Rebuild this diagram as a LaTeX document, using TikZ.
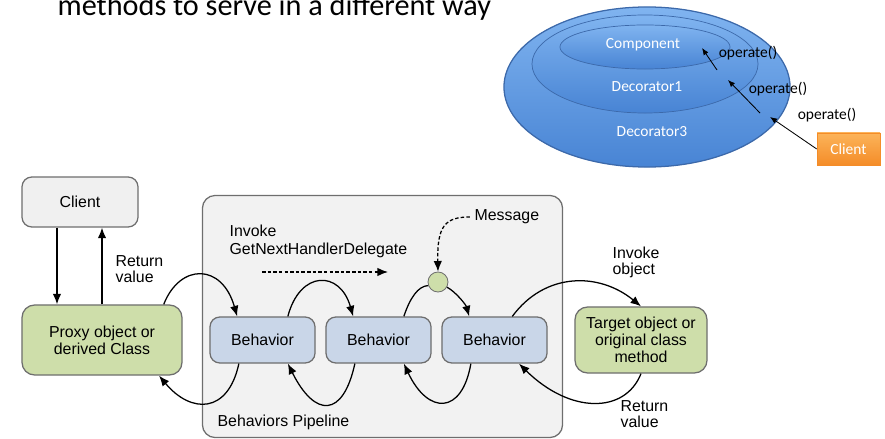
\documentclass[tikz,border=0pt]{standalone}
\usepackage{fontspec}
\setmainfont{Liberation Sans}
\newfontfamily\calibri{Carlito}
\usetikzlibrary{arrows.meta,shapes.geometric,positioning}
\definecolor{boxgray}{RGB}{240,240,240}
\definecolor{pipegray}{RGB}{242,242,242}
\definecolor{linegray}{RGB}{110,110,110}
\definecolor{objgreen}{RGB}{206,222,170}
\definecolor{behblue}{RGB}{201,214,232}
\definecolor{decotop}{RGB}{128,180,240}
\definecolor{decobot}{RGB}{72,132,212}
\definecolor{decoline}{RGB}{60,105,170}
\definecolor{usrtop}{RGB}{252,180,90}
\definecolor{usrbot}{RGB}{244,140,40}
\tikzset{
  box/.style={draw=linegray, rounded corners=7pt, align=center,
    font=\fontsize{11.3}{12}\selectfont},
  behavior/.style={box, fill=behblue, minimum width=2.625cm, minimum height=1.15cm},
  objbox/.style={box, fill=objgreen, rounded corners=9pt},
  lbl/.style={font=\fontsize{11.3}{11.5}\selectfont, align=left, inner sep=0pt},
  deco/.style={ellipse, draw=decoline, top color=decotop, bottom color=decobot, inner sep=0pt},
  decotext/.style={font=\calibri\fontsize{11}{12}\selectfont, text=white},
  optext/.style={font=\calibri\fontsize{11}{12}\selectfont},
  dotted line/.style={dash pattern=on 2.5pt off 1.5pt}
}
\begin{document}
\begin{tikzpicture}[x=0.025cm, y=-0.025cm, >={Latex[length=7.5pt,width=6pt]}, line width=0.9pt]
	\useasboundingbox (0,0) rectangle (885,439);

	% heading line
	\node[anchor=base west, inner sep=0pt, font=\calibri\fontsize{21.5}{24}\selectfont] (head) at (57,16) {methods to serve in a different way};

	% decorator rings
	\node[deco, minimum width=7.15cm, minimum height=4cm] (deco3) at (647,87) {};
	\node[deco, minimum width=5.65cm, minimum height=2.45cm, line width=0.5pt] (deco1) at (645,64) {};
	\node[deco, minimum width=4.25cm, minimum height=1.1cm, line width=0.5pt] (comp) at (645,47) {};
	\node[decotext] (comptext) at (643,45) {Component};
	\node[decotext] (deco1text) at (647,87) {Decorator1};
	\node[decotext] (deco3text) at (652,132) {Decorator3};
	\node[draw=usrbot, line width=0.4pt, top color=usrtop, bottom color=usrbot, minimum width=1.575cm, minimum height=0.8cm, decotext] (usr) at (848.5,149) {Client};

	\node[optext] (op1) at (748,53) {operate()};
	\node[optext] (op2) at (778,89) {operate()};
	\node[optext] (op3) at (827,115) {operate()};
	\coordinate (op1a) at (717,70);
	\coordinate (op1b) at (702,48);
	\coordinate (op2a) at (760,113);
	\coordinate (op2b) at (728,80);
	\coordinate (op3b) at (770,117);
	\draw[-{Latex[length=5pt,width=4pt]}, line width=0.6pt] (op1a) -- (op1b);
	\draw[-{Latex[length=5pt,width=4pt]}, line width=0.6pt] (op2a) -- (op2b);
	\draw[-{Latex[length=5pt,width=4pt]}, line width=0.6pt] (usr.west) -- (op3b);

	% interception pipeline
	\node[box, fill=pipegray, rounded corners=9pt, minimum width=9cm, minimum height=6.05cm] (pipeline) at (382.5,316.5) {};
	\node[box, fill=boxgray, minimum width=2.9cm, minimum height=1.25cm] (client) at (80,202) {Client};
	\node[objbox, minimum width=4cm, minimum height=1.75cm] (proxy) at (102,340) {Proxy object or\\derived Class};
	\node[behavior] (beh1) at (262.5,340) {Behavior};
	\node[behavior] (beh2) at (378.5,340) {Behavior};
	\node[behavior] (beh3) at (494.5,340) {Behavior};
	\node[objbox, minimum width=3.3cm, minimum height=1.65cm] (target) at (641,340) {Target object or\\original class\\method};
	\node[circle, draw=linegray, fill=objgreen, minimum size=0.5cm, inner sep=0pt, line width=0.6pt] (msgdot) at (438,282) {};

	\node[lbl, anchor=west] (retA) at (115,269) {Return\\value};
	\node[lbl, anchor=west, font=\fontsize{11.3}{12.8}\selectfont] (invoke) at (229,241) {Invoke\\GetNextHandlerDelegate};
	\node[lbl, anchor=west] (msg) at (474,217) {Message};
	\node[lbl, anchor=west] (invobj) at (612,262) {Invoke\\object};
	\node[lbl, anchor=west] (retB) at (620,414) {Return\\value};
	\node[lbl, anchor=west] (pipename) at (217,422) {Behaviors Pipeline};

	\coordinate (nextA) at (262,272);
	\coordinate (nextB) at (388,272);
	\draw[->, dotted line] (nextA) -- (nextB);
	\draw[->, dotted line] ([xshift=-3pt]msg.west) .. controls (445,217) and (437,226) .. (msgdot.north);

	\draw[->] ([xshift=-0.575cm]client.south) -- ([xshift=-0.575cm]client.south |- proxy.north);
	\draw[->] (proxy.north) -- (proxy.north |- client.south);

	\draw[->] (proxy.30) .. controls (180,263) and (222,263) .. (beh1.137);
	\draw[->] (beh1.43) .. controls (300,270) and (340,270) .. (beh2.137);
	\draw (beh2.43) .. controls (410,298) and (418,286) .. (msgdot.200);
	\draw[->] (msgdot.-30) .. controls (456,292) and (466,305) .. (beh3.137);
	\draw[->] (beh3.53) .. controls (545,272) and (599,272) .. (target.north);

	\draw[->] (target.south) .. controls (625,414) and (570,414) .. (beh3.-44);
	\draw[->] (beh3.225) .. controls (462,415) and (428,415) .. (beh2.-43);
	\draw[->] (beh2.225) .. controls (343,418) and (315,418) .. (beh1.-43);
	\draw[->] (beh1.225) .. controls (228,414) and (191,414) .. (proxy.-32);
\end{tikzpicture}
\end{document}
